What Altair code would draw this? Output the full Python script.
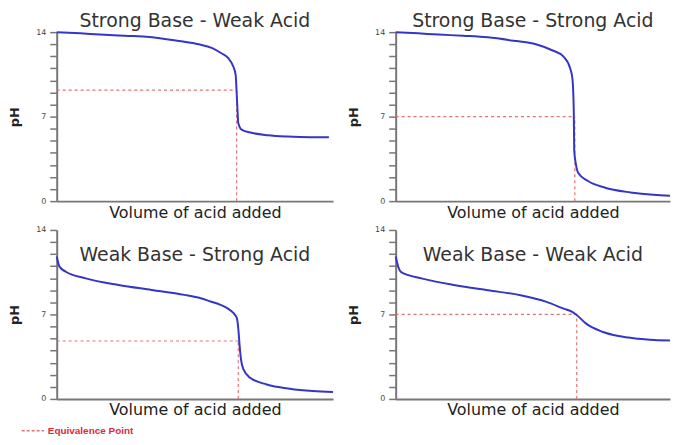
import altair as alt
import pandas as pd

titles = ["Strong Base - Weak Acid", "Strong Base - Strong Acid",
          "Weak Base - Strong Acid", "Weak Base - Weak Acid"]

p1_vol = [0, 8.6, 15.7, 24.6, 33.6, 44.3, 51.4, 56.1, 59.6, 62.1, 63.9, 64.75, 65.1, 65.5, 65.7, 66.9, 70.5, 76.4, 83.6, 91.8, 98.5]
p1_ph = [14.0, 13.9, 13.8, 13.7, 13.6, 13.26, 12.99, 12.7, 12.25, 11.84, 11.15, 10.46, 9.09, 7.17, 6.48, 5.93, 5.66, 5.46, 5.35, 5.3, 5.3]

p2_vol = [0, 8.2, 15.7, 24.6, 33.6, 43.9, 51.1, 57.0, 61.2, 63.6, 64.4, 64.9, 65.1, 65.7, 66.5, 70.1, 76.1, 85.6, 93.9, 100]
p2_ph = [14.0, 13.9, 13.8, 13.7, 13.57, 13.26, 13.0, 12.5, 11.97, 11.0, 10.2, 7.7, 4.14, 3.05, 2.36, 1.67, 1.13, 0.72, 0.52, 0.45]

p3_vol = [0, 1.0, 3.3, 10.5, 22.4, 34.3, 46.2, 52.1, 55.7, 59.3, 61.7, 64.0, 65.2, 65.8, 66.2, 66.7, 67.6, 70.0, 76.0, 84.3, 92.6, 100]
p3_ph = [11.8, 10.96, 10.54, 9.99, 9.44, 9.03, 8.62, 8.34, 8.07, 7.8, 7.52, 7.1, 6.7, 5.6, 4.37, 3.26, 2.44, 1.75, 1.2, 0.85, 0.66, 0.58]

p4_vol = [0, 1.0, 2.0, 9.75, 21.7, 33.6, 45.5, 55.0, 61.0, 64.5, 66.0, 69.3, 75.3, 81.2, 88.3, 95.5, 100]
p4_ph = [11.8, 10.9, 10.5, 9.97, 9.42, 9.0, 8.59, 8.04, 7.5, 7.2, 6.95, 6.26, 5.57, 5.21, 4.99, 4.86, 4.85]

eq_vol = [65.1, 65.3, 65.7, 66.0]
eq_ph = [9.2, 7.0, 4.8, 7.0]
eq_label = "Equivalence Point"

vols = [p1_vol, p2_vol, p3_vol, p4_vol]
phs = [p1_ph, p2_ph, p3_ph, p4_ph]
title_offsets = [-3, -3, -39, -39]
widths = [278, 276, 278, 276]

CURVE = "#3535c8"
EQ = "#e47272"

def xq(field):
    return alt.X(f"{field}:Q", scale=alt.Scale(domain=[0, 100], nice=False),
                 title="Volume of acid added")

def yq(field):
    return alt.Y(f"{field}:Q", scale=alt.Scale(domain=[0, 14], nice=False),
                 title="pH",
                 axis=alt.Axis(values=list(range(15)),
                               labelExpr="datum.value % 7 === 0 ? datum.label : ''"))

def panel(i):
    df = pd.DataFrame({"vol": vols[i], "ph": phs[i]})
    eq = pd.DataFrame({"x0": [0], "xe": [eq_vol[i]], "y0": [0], "ye": [eq_ph[i]],
                       "label": [eq_label]})
    hrule = alt.Chart(eq).mark_rule(color=EQ, strokeDash=[3, 3], strokeWidth=1.2).encode(
        x=xq("x0"), x2="xe", y=yq("ye"))
    if i == 2:
        vrule = alt.Chart(eq).mark_rule(strokeDash=[3, 3], strokeWidth=1.2).encode(
            x=xq("xe"), y=yq("y0"), y2="ye",
            color=alt.Color("label:N", scale=alt.Scale(range=[EQ]),
                            legend=alt.Legend(title=None, orient="none", legendX=-36, legendY=190,
                                              symbolType="stroke", symbolDash=[3, 2],
                                              symbolStrokeWidth=1.3, symbolSize=500,
                                              labelColor="#e0283c", labelFont="Liberation Sans",
                                              labelFontWeight="bold", labelFontSize=10,
                                              labelOffset=3)))
    else:
        vrule = alt.Chart(eq).mark_rule(color=EQ, strokeDash=[3, 3], strokeWidth=1.2).encode(
            x=xq("xe"), y=yq("y0"), y2="ye")
    line = alt.Chart(df).mark_line(color=CURVE, strokeWidth=2, interpolate="monotone").encode(
        x=xq("vol"), y=yq("ph"))
    return alt.layer(hrule, vrule, line).properties(
        width=widths[i], height=170,
        title=alt.TitleParams(titles[i], offset=title_offsets[i], fontSize=19,
                              font="DejaVu Sans", fontWeight="normal", color="#333333",
                              anchor="middle"))

chart = alt.concat(panel(0), panel(1), panel(2), panel(3), columns=2,
                   spacing={"row": 29, "column": 63}, bounds="flush").resolve_scale(
    color="independent").resolve_legend(color="independent").properties(
    padding={"left": 0, "top": 3, "right": 0, "bottom": 0}
).configure_view(stroke=None).configure_axisX(
    ticks=False, labels=False, grid=False, domainColor="#777777", domainWidth=2,
    titleFont="DejaVu Sans", titleFontSize=16, titleFontWeight="normal", titleColor="#222222",
    titlePadding=3
).configure_axisY(
    grid=False, domainColor="#777777", domainWidth=2, tickColor="#777777", tickWidth=1.5,
    tickSize=7, labelFont="DejaVu Sans", labelFontSize=8, labelColor="#444444", labelPadding=4,
    titleFont="DejaVu Sans", titleFontSize=13, titleFontWeight="bold", titleColor="#222222",
    titlePadding=14
)

chart.save("out.html", embed_options={"renderer": "svg", "actions": False})
